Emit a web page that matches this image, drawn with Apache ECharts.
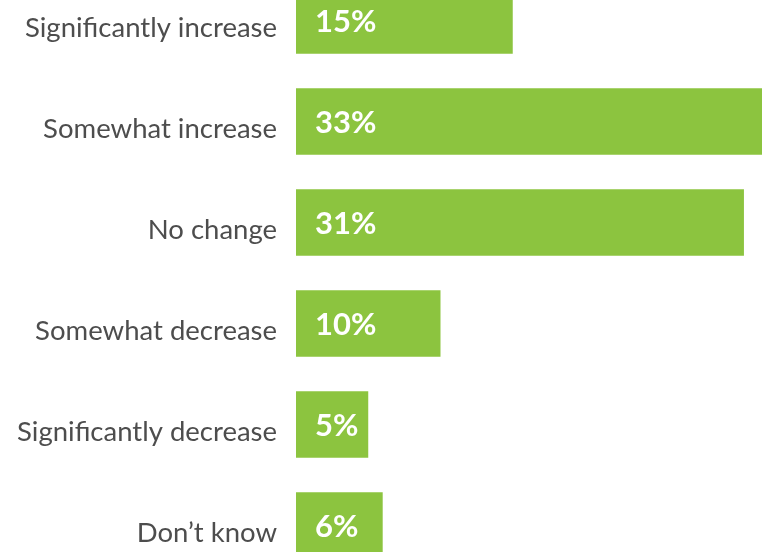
<!DOCTYPE html>
<html>
<head>
<meta charset="utf-8">
<script src="https://cdn.jsdelivr.net/npm/echarts@6/dist/echarts.min.js"></script>
<style>html,body{margin:0;padding:0;background:#fff;overflow:hidden;width:762px;height:552px;position:relative}
#c{position:absolute;left:0;top:-30px;width:762px;height:606px}</style>
</head>
<body>
<div id="c"></div>
<script>
const categories = ["Significantly increase","Somewhat increase","No change","Somewhat decrease","Significantly decrease","Don\u2019t know"];
const values = [15, 33, 31, 10, 5, 6];

const chart = echarts.init(document.getElementById('c'), null, {renderer:'canvas'});
chart.setOption({
  animation: false,
  grid: {left: 296, right: 0, top: 0, bottom: 0, containLabel: false},
  xAxis: {type:'value', min:0, max:32.25, show:false},
  yAxis: {
    type:'category', data: categories, inverse: true,
    axisLine:{show:false}, axisTick:{show:false}, splitLine:{show:false},
    axisLabel:{
      margin: 19,
      formatter: v => '{a|' + v + '}',
      rich: {
        a: {color:'#4d4d4d', fontFamily:'Lato', fontSize:27.5, fontWeight:400, padding:[16,0,0,0]}
      }
    }
  },
  series: [{
    type:'bar', data: values, barWidth:'66%', clip:true,
    itemStyle:{color:'#8cc43f'},
    label:{
      show:true, position:'insideLeft', distance:19,
      formatter: p => '{v|' + p.value + '%}',
      rich: {
        v: {color:'#fff', fontFamily:'Lato', fontSize:31, fontWeight:'bold', padding:[3,0,0,0]}
      }
    }
  }]
});
</script>
</body>
</html>
